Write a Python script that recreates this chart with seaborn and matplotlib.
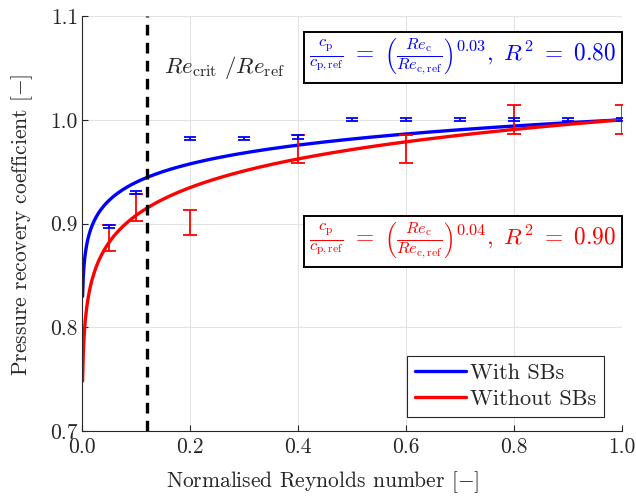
import numpy as np
import pandas as pd
import matplotlib
matplotlib.use("Agg")
import matplotlib.pyplot as plt
import seaborn as sns

# Power-law fit exponents, R^2 values and the Re range each fit curve spans
exp_with = 0.027
exp_without = 0.042
r2_with = 0.80
r2_without = 0.90
re_start = 0.001
re_crit = 0.12

# Measured points with error bars
x_with = [0.05, 0.1, 0.2, 0.3, 0.4, 0.5, 0.6, 0.7, 0.8, 0.9, 1.0]
y_with = [0.897, 0.930, 0.982, 0.982, 0.983, 1.000, 1.000, 1.000, 1.000, 1.000, 1.000]
e_with = [0.0015, 0.0015, 0.0015, 0.0015, 0.002, 0.0015, 0.0015, 0.0015, 0.0015, 0.0015, 0.0015]

x_without = [0.05, 0.1, 0.2, 0.4, 0.6, 0.8, 1.0]
y_without = [0.886, 0.915, 0.901, 0.972, 0.972, 1.000, 1.000]
e_without = [0.0125, 0.013, 0.0125, 0.0135, 0.0135, 0.014, 0.014]

xticks = [0.0, 0.2, 0.4, 0.6, 0.8, 1.0]
yticks = [0.7, 0.8, 0.9, 1.0, 1.1]

sns.set_style("whitegrid")
plt.rcParams.update({
    "font.family": "serif",
    "font.serif": ["cmr10", "DejaVu Serif"],
    "mathtext.fontset": "cm",
    "axes.formatter.use_mathtext": True,
    "axes.unicode_minus": False,
})

fig = plt.figure(figsize=(6.36, 5.01), dpi=100)
ax = fig.add_axes([0.129, 0.1397, 0.849, 0.8283])

xr = np.linspace(re_start, 1.0, 800)
df = pd.concat([
    pd.DataFrame({"x": xr, "y": xr ** exp_with, "series": "With SBs"}),
    pd.DataFrame({"x": xr, "y": xr ** exp_without, "series": "Without SBs"}),
])
sns.lineplot(data=df, x="x", y="y", hue="series", palette=["#0000ff", "#ff0000"],
             linewidth=2.4, ax=ax, sort=False, estimator=None)

ax.errorbar(x_without, y_without, yerr=e_without, fmt="none", ecolor="#ff0000",
            elinewidth=1.3, capsize=5, capthick=1.3, zorder=3)
ax.errorbar(x_with, y_with, yerr=e_with, fmt="none", ecolor="#0000ff",
            elinewidth=1.3, capsize=4, capthick=1.3, zorder=3)

ax.axvline(re_crit, color="black", linestyle=(0, (3.2, 2.2)), linewidth=2.4, zorder=4)
ax.text(0.152, 1.05, r"$Re_{\mathrm{crit}}\ /Re_{\mathrm{ref}}$", fontsize=16.5,
        ha="left", va="center")


def fit_label(b, r2):
    return (r"$\frac{c_\mathrm{p}}{c_\mathrm{p,ref}}\ =\ "
            r"\left(\frac{Re_\mathrm{c}}{Re_\mathrm{c,ref}}\right)^{%.2f},\ R^2\ =\ %.2f$" % (b, r2))


box = dict(boxstyle="square,pad=0.22", facecolor="white", edgecolor="black", linewidth=1.4)
ax.text(0.99, 1.06, fit_label(exp_with, r2_with),
        color="#0000ff", fontsize=16.8, ha="right", va="center", bbox=box, zorder=5)
ax.text(0.99, 0.8826, fit_label(exp_without, r2_without),
        color="#ff0000", fontsize=16.8, ha="right", va="center", bbox=box, zorder=5)

ax.set_xlim(0, 1)
ax.set_ylim(0.7, 1.1)
ax.set_xticks(xticks)
ax.set_yticks(yticks)
ax.set_xticklabels([f"{v:.1f}" for v in xticks])
ax.set_yticklabels([f"{v:.1f}" for v in yticks])
ax.tick_params(direction="in", length=4, width=0.8, colors="#262626", labelsize=15.5,
               bottom=True, left=True, pad=3)
ax.tick_params(axis="x", pad=5)
ax.grid(True, color="#e3e3e3", linewidth=0.8)
for side in ["top", "right"]:
    ax.spines[side].set_visible(False)
for side in ["left", "bottom"]:
    ax.spines[side].set_color("#262626")
    ax.spines[side].set_linewidth(0.8)

ax.set_xlabel(r"Normalised Reynolds number $[-]$", fontsize=15.5, color="#262626")
ax.set_ylabel(r"Pressure recovery coefficient $[-]$", fontsize=15.5, color="#262626")
ax.xaxis.set_label_coords(0.446, -0.092)
ax.yaxis.set_label_coords(-0.087, 0.496)

leg = ax.legend(loc="lower right", bbox_to_anchor=(0.967, 0.034), fontsize=16,
                frameon=True, fancybox=False, edgecolor="#262626", framealpha=1,
                handlelength=2.3, handletextpad=0.2, borderpad=0.35, labelspacing=0.3,
                borderaxespad=0.0)
leg.get_frame().set_linewidth(0.8)
leg.set_title(None)

fig.savefig("out.png", dpi=100)
